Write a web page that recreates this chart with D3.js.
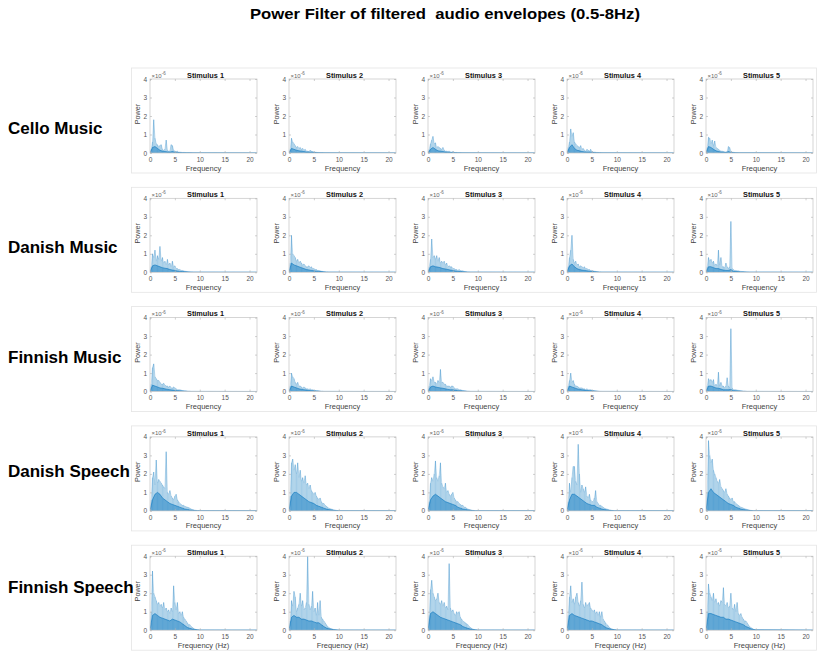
<!DOCTYPE html>
<html><head><meta charset="utf-8">
<script src="https://cdn.jsdelivr.net/npm/d3@7/dist/d3.min.js"></script>
<style>body{margin:0;background:#fff;}svg{display:block;font-family:"Liberation Sans",Arial,sans-serif;}</style>
</head><body>
<svg id="chart" width="817" height="653"></svg>
<script>
// ---------- DATA (power in units of 1e-6) ----------
const chartTitle = "Power Filter of filtered  audio envelopes (0.5-8Hz)";
const rowNames = ["Cello Music","Danish Music","Finnish Music","Danish Speech","Finnish Speech"];
const stimulusLabels = ["Stimulus 1","Stimulus 2","Stimulus 3","Stimulus 4","Stimulus 5"];
const xTicks = [0,5,10,15,20];
const yTicks = [0,1,2,3,4];
const peakStep = 0.25;   // Hz between peak samples (first at 0.25 Hz)
const coreStep = 0.5;    // Hz between core samples (first at 0.5 Hz)

// peak envelopes (light) — one array per stimulus
const celloPeaks = [
 [0.2,0.6,1.8,0.8,0.5,0.45,0.35,0.4,0.45,0.2,0.15,0.2,0.7,0.15,0.1,0.1,0.45,0.4,0.15,0.1,0.08,0.1,0.05,0.05,0.04,0.03,0.03,0.03,0.02,0.02,0.02,0.02,0.02,0.01],
 [0.2,0.8,0.6,0.5,0.4,0.3,0.35,0.25,0.3,0.2,0.25,0.15,0.2,0.1,0.1,0.08,0.15,0.1,0.08,0.06,0.05,0.04,0.03,0.03,0.02,0.02,0.02,0.01],
 [0.2,0.5,0.7,0.9,0.5,0.55,0.3,0.35,0.3,0.25,0.2,0.3,0.15,0.1,0.1,0.08,0.1,0.06,0.05,0.08,0.04,0.03,0.03,0.02,0.02,0.02,0.01],
 [0.3,0.6,1.3,0.9,1.1,0.6,0.5,0.4,0.35,0.3,0.4,0.2,0.25,0.15,0.1,0.2,0.15,0.1,0.2,0.08,0.05,0.05,0.04,0.03,0.03,0.02,0.02,0.01],
 [0.3,0.85,0.8,0.5,0.7,0.4,0.65,0.3,0.25,0.2,0.15,0.1,0.1,0.08,0.06,0.05,0.05,0.35,0.3,0.1,0.05,0.04,0.03,0.02,0.02,0.01]
];
const danishMusicPeaks = [
 [0.3,1.0,0.8,1.2,0.6,0.9,0.7,1.4,0.6,0.8,0.5,0.6,0.4,0.7,0.4,0.5,0.3,0.6,0.3,0.35,0.2,0.2,0.15,0.15,0.1,0.1,0.08,0.06,0.05,0.04,0.03,0.03,0.02,0.02,0.01],
 [0.5,2.0,1.0,0.9,0.8,0.6,0.7,0.5,0.6,0.5,0.4,0.45,0.35,0.3,0.3,0.35,0.25,0.3,0.2,0.2,0.15,0.15,0.1,0.1,0.08,0.06,0.05,0.04,0.03,0.02,0.02,0.01],
 [0.3,0.7,1.8,0.8,0.9,0.7,0.9,0.6,0.8,0.5,0.6,0.5,0.6,0.4,0.5,0.3,0.35,0.3,0.3,0.2,0.2,0.15,0.15,0.1,0.15,0.1,0.08,0.08,0.05,0.04,0.03,0.02,0.02,0.01],
 [0.3,0.8,1.2,2.0,0.7,0.5,0.6,0.4,0.45,0.3,0.35,0.3,0.25,0.3,0.2,0.2,0.15,0.15,0.1,0.1,0.08,0.06,0.05,0.04,0.03,0.02,0.02,0.01],
 [0.3,0.8,0.6,0.7,0.5,0.6,0.4,0.45,0.35,1.2,0.4,0.8,0.3,0.3,0.25,0.5,0.3,0.2,0.3,2.75,0.2,0.15,0.1,0.1,0.08,0.08,0.06,0.05,0.04,0.04,0.03,0.03,0.02,0.02,0.01]
];
const finnishMusicPeaks = [
 [0.4,1.3,1.5,0.8,0.7,0.6,0.6,0.5,0.4,0.4,0.45,0.35,0.3,0.3,0.25,0.3,0.2,0.2,0.25,0.2,0.15,0.1,0.1,0.1,0.08,0.06,0.05,0.04,0.04,0.03,0.02,0.02,0.01],
 [0.3,1.0,0.8,0.7,0.5,0.4,0.5,0.3,0.3,0.25,0.2,0.25,0.2,0.15,0.15,0.12,0.15,0.1,0.1,0.08,0.06,0.05,0.05,0.04,0.03,0.02,0.02,0.01],
 [0.3,0.7,0.6,0.8,0.5,0.5,0.4,0.6,0.5,1.2,0.5,0.5,0.4,0.4,0.3,0.3,0.3,0.25,0.3,0.3,0.2,0.15,0.15,0.15,0.1,0.1,0.08,0.06,0.05,0.04,0.03,0.02,0.02,0.01],
 [0.3,0.6,1.0,0.5,0.6,0.4,0.3,0.3,0.25,0.2,0.2,0.2,0.15,0.15,0.1,0.15,0.1,0.1,0.1,0.08,0.06,0.05,0.04,0.03,0.02,0.02,0.01],
 [0.3,0.7,0.6,0.65,0.5,0.65,0.3,0.4,0.3,1.05,0.3,0.5,0.3,0.3,0.2,0.3,0.75,0.3,0.2,3.4,0.2,0.1,0.1,0.1,0.08,0.07,0.06,0.05,0.04,0.03,0.03,0.02,0.01]
];
const danishSpeechPeaks = [
 [0.6,1.8,2.1,1.4,2.75,1.5,1.7,1.6,1.5,1.4,1.3,1.2,3.2,1.0,0.9,1.1,0.8,0.7,0.6,0.8,0.9,0.6,0.5,0.4,0.35,0.3,0.3,0.25,0.22,0.2,0.18,0.15,0.1,0.08,0.06,0.04,0.03,0.02,0.02,0.01],
 [0.8,2.6,2.8,2.2,2.5,2.0,2.6,1.8,2.2,1.6,1.8,1.5,1.9,1.4,1.5,1.2,1.4,1.1,1.0,0.9,1.0,0.8,0.7,0.6,0.7,0.5,0.4,0.4,0.3,0.25,0.2,0.15,0.12,0.1,0.08,0.05,0.04,0.03,0.02,0.01],
 [0.5,1.5,1.8,1.6,2.0,2.7,1.8,1.6,1.9,2.6,1.5,1.3,1.2,1.5,1.0,1.1,0.9,0.8,0.9,1.0,0.7,0.6,0.5,0.5,0.4,0.35,0.3,0.3,0.2,0.2,0.15,0.1,0.08,0.06,0.04,0.03,0.02,0.01],
 [0.5,1.5,1.0,1.8,2.4,2.4,1.6,1.4,3.6,2.0,1.0,1.4,1.2,1.0,1.3,0.8,0.7,0.9,0.6,0.5,0.5,0.7,1.1,0.5,0.4,0.3,0.3,0.25,0.2,0.15,0.12,0.1,0.08,0.05,0.04,0.03,0.02,0.01],
 [1.0,3.8,3.0,2.6,2.8,2.2,2.0,1.8,1.6,1.5,1.7,1.3,1.2,1.1,1.0,1.2,0.9,0.8,0.7,0.6,0.7,0.5,0.5,0.4,0.35,0.3,0.25,0.2,0.18,0.15,0.12,0.1,0.08,0.06,0.04,0.03,0.02,0.01]
];
const finnishSpeechPeaks = [
 [1.0,3.2,2.0,1.8,1.6,1.4,1.5,1.3,1.4,1.2,1.5,1.1,1.2,1.0,1.1,0.9,1.2,1.0,2.4,1.5,1.1,1.5,0.9,1.0,0.8,1.0,0.7,0.6,0.5,0.4,0.3,0.3,0.2,0.15,0.1,0.06,0.04,0.03,0.02,0.01],
 [0.5,1.6,1.3,2.1,1.8,1.0,1.2,1.4,2.0,1.3,1.6,1.1,1.2,1.5,4.0,1.4,1.1,1.3,2.1,1.0,1.2,0.8,1.5,0.8,1.6,0.7,0.6,0.5,0.4,0.3,0.2,0.15,0.1,0.08,0.06,0.04,0.03,0.02,0.01],
 [0.8,2.2,2.7,2.0,1.8,1.6,1.7,2.0,1.5,1.4,1.6,1.3,1.5,1.2,1.3,1.1,3.6,1.2,1.0,1.1,0.9,0.8,1.0,0.9,1.0,0.7,0.6,0.5,0.45,0.4,0.35,0.3,0.2,0.15,0.1,0.06,0.04,0.03,0.02,0.01],
 [0.8,1.8,2.4,1.5,1.7,1.4,1.8,2.0,1.5,1.3,1.6,2.6,1.4,1.2,1.5,1.3,1.4,1.5,1.2,1.1,1.0,1.1,0.9,1.0,0.8,1.0,0.7,1.0,0.6,0.5,0.4,0.3,0.25,0.15,0.1,0.06,0.04,0.03,0.02,0.01],
 [1.0,2.5,2.0,1.8,1.6,2.0,1.5,1.7,1.4,1.5,1.3,1.6,1.5,2.3,1.4,1.3,1.5,1.2,1.3,2.0,1.2,1.1,1.4,1.0,1.5,0.9,0.8,0.9,0.7,0.6,0.5,0.5,0.4,0.3,0.2,0.15,0.1,0.06,0.03,0.02]
];

// dense cores (dark) — one array per stimulus
const celloCore = [
 [0.3,0.35,0.25,0.15,0.1,0.08,0.06,0.05,0.08,0.04,0.03,0.02,0.01],
 [0.25,0.2,0.15,0.12,0.1,0.08,0.05,0.05,0.04,0.03,0.02,0.01],
 [0.2,0.3,0.2,0.12,0.1,0.08,0.05,0.04,0.03,0.02,0.02,0.01],
 [0.3,0.45,0.25,0.15,0.12,0.08,0.06,0.05,0.05,0.04,0.02,0.01],
 [0.35,0.3,0.2,0.12,0.08,0.05,0.04,0.03,0.08,0.03,0.02,0.01]
];
const danishMusicCore = [
 [0.35,0.4,0.35,0.3,0.25,0.22,0.2,0.15,0.12,0.1,0.07,0.05,0.04,0.03,0.02,0.01],
 [0.5,0.4,0.35,0.3,0.25,0.2,0.15,0.13,0.1,0.08,0.06,0.05,0.04,0.02,0.01],
 [0.3,0.35,0.3,0.28,0.25,0.2,0.18,0.15,0.12,0.1,0.07,0.05,0.04,0.03,0.02,0.01],
 [0.35,0.45,0.3,0.2,0.15,0.12,0.1,0.08,0.06,0.04,0.03,0.02,0.01],
 [0.3,0.3,0.25,0.2,0.2,0.15,0.12,0.1,0.1,0.15,0.05,0.04,0.03,0.02,0.02,0.01]
];
const finnishMusicCore = [
 [0.35,0.3,0.25,0.2,0.18,0.15,0.12,0.1,0.08,0.06,0.05,0.04,0.03,0.02,0.01],
 [0.3,0.25,0.2,0.15,0.12,0.1,0.08,0.06,0.05,0.04,0.03,0.02,0.01],
 [0.25,0.3,0.25,0.22,0.2,0.18,0.15,0.12,0.1,0.1,0.07,0.05,0.04,0.03,0.02,0.01],
 [0.3,0.25,0.2,0.15,0.12,0.1,0.08,0.06,0.05,0.04,0.03,0.02,0.01],
 [0.3,0.3,0.25,0.2,0.18,0.15,0.1,0.1,0.1,0.12,0.05,0.04,0.03,0.02,0.01]
];
const danishSpeechCore = [
 [0.6,0.9,1.0,0.9,0.7,0.6,0.5,0.4,0.35,0.3,0.25,0.2,0.15,0.1,0.08,0.05,0.03,0.02,0.01,0.01],
 [0.8,1.0,1.0,0.9,0.8,0.7,0.6,0.5,0.45,0.4,0.3,0.25,0.2,0.15,0.1,0.07,0.05,0.03,0.02,0.01],
 [0.6,0.8,0.9,0.8,0.7,0.6,0.5,0.45,0.4,0.35,0.3,0.2,0.15,0.1,0.08,0.05,0.03,0.02,0.01],
 [0.6,0.9,0.9,0.8,0.7,0.6,0.5,0.4,0.35,0.3,0.3,0.2,0.15,0.1,0.07,0.05,0.03,0.02,0.01],
 [1.0,1.2,1.0,0.9,0.8,0.7,0.6,0.5,0.4,0.35,0.3,0.2,0.15,0.1,0.07,0.05,0.03,0.02,0.01]
];
const finnishSpeechCore = [
 [0.8,0.9,0.8,0.7,0.65,0.6,0.55,0.5,0.6,0.55,0.5,0.45,0.35,0.25,0.15,0.1,0.06,0.04,0.02,0.01],
 [0.7,0.8,0.7,0.7,0.6,0.6,0.55,0.5,0.5,0.45,0.4,0.4,0.3,0.2,0.12,0.08,0.05,0.03,0.02,0.01],
 [0.9,1.0,0.9,0.8,0.7,0.65,0.6,0.55,0.5,0.45,0.4,0.35,0.3,0.2,0.15,0.1,0.06,0.04,0.02,0.01],
 [0.8,0.9,0.8,0.75,0.7,0.65,0.6,0.55,0.5,0.5,0.45,0.4,0.35,0.3,0.2,0.12,0.08,0.05,0.03,0.01],
 [0.9,0.9,0.85,0.8,0.75,0.7,0.7,0.6,0.6,0.55,0.5,0.45,0.4,0.35,0.3,0.2,0.15,0.08,0.04,0.02]
];

const allPeaks = [celloPeaks, danishMusicPeaks, finnishMusicPeaks, danishSpeechPeaks, finnishSpeechPeaks];
const allCores = [celloCore, danishMusicCore, finnishMusicCore, danishSpeechCore, finnishSpeechCore];

// ---------- LAYOUT ----------
const svg = d3.select("#chart");
const colX0 = 150, colStep = 139, axW = 107;
const rowTop0 = 79, rowStep = 119.3, axH = 74;
const rowLabelY = [134, 253, 363, 477, 593];
const xMax = 21.5;
const blue = "#0072BD";

svg.append("text").attr("x", 445).attr("y", 19).attr("text-anchor","middle")
  .attr("font-size", 15.5).attr("font-weight","bold").attr("fill","#000")
  .attr("textLength", 390).attr("lengthAdjust","spacingAndGlyphs")
  .style("white-space","pre").text(chartTitle);

const x = d3.scaleLinear().domain([0, xMax]).range([0, axW]);
const y = d3.scaleLinear().domain([0, 4]).range([axH, 0]);

const area = d3.area().x(d => x(d[0])).y0(y(0)).y1(d => y(d[1]));
const line = d3.line().x(d => x(d[0])).y(d => y(d[1]));

const defs = svg.append("defs");
defs.append("clipPath").attr("id","axclip").append("rect")
  .attr("x",0).attr("y",0).attr("width",axW).attr("height",axH);

rowNames.forEach((rn, r) => {
  const top = rowTop0 + r * rowStep;
  svg.append("rect").attr("x", 131.5).attr("y", top - 11).attr("width", 685).attr("height", 105)
    .attr("fill","none").attr("stroke","#e4e4e4").attr("stroke-width",0.8);
  svg.append("text").attr("x", 8).attr("y", rowLabelY[r]).attr("font-size",17)
    .attr("font-weight","bold").attr("fill","#000").text(rn);

  stimulusLabels.forEach((sl, c) => {
    const left = colX0 + c * colStep;
    const g = svg.append("g").attr("transform", `translate(${left},${top})`);
    const pk = allPeaks[r][c].map((v,i) => [peakStep*(i+1), v]);
    const peaks = [[0,0]].concat(pk, [[xMax, 0.01]]);
    const core = [[0,0]].concat(allCores[r][c].map((v,i) => [coreStep*(i+1), v]), [[xMax, 0.005]]);

    const pg = g.append("g").attr("clip-path","url(#axclip)");
    pg.append("path").datum(peaks).attr("d", area)
      .attr("fill", blue).attr("fill-opacity", 0.13);
    pg.selectAll("line.spk").data(pk).join("line").attr("class","spk")
      .attr("x1", d => x(d[0])).attr("x2", d => x(d[0]))
      .attr("y1", y(0)).attr("y2", d => y(d[1]))
      .attr("stroke", blue).attr("stroke-opacity", 0.4).attr("stroke-width", 0.7);
    pg.append("path").datum(peaks).attr("d", line)
      .attr("fill","none").attr("stroke", blue).attr("stroke-opacity",0.45).attr("stroke-width",0.5);
    pg.append("path").datum(core).attr("d", area)
      .attr("fill", blue).attr("fill-opacity", 0.45);
    pg.append("path").datum(core).attr("d", line)
      .attr("fill","none").attr("stroke", blue).attr("stroke-opacity",0.8).attr("stroke-width",0.7);

    g.append("rect").attr("x",0).attr("y",0).attr("width",axW).attr("height",axH)
      .attr("fill","none").attr("stroke","#c4c4c4").attr("stroke-width",0.7);

    const xa = g.append("g").attr("transform",`translate(0,${axH})`)
      .call(d3.axisBottom(x).tickValues(xTicks).tickFormat(d3.format("d")).tickSizeInner(-2).tickSizeOuter(0).tickPadding(4));
    const xt = g.append("g").call(d3.axisTop(x).tickValues(xTicks).tickFormat("").tickSizeInner(-2).tickSizeOuter(0));
    const ya = g.append("g")
      .call(d3.axisLeft(y).tickValues(yTicks).tickFormat(d3.format("d")).tickSizeInner(-2).tickSizeOuter(0).tickPadding(3));
    const yr = g.append("g").attr("transform",`translate(${axW},0)`)
      .call(d3.axisRight(y).tickValues(yTicks).tickFormat("").tickSizeInner(-2).tickSizeOuter(0));
    [xa, xt, ya, yr].forEach(a => {
      a.select(".domain").remove();
      a.selectAll("line").attr("stroke","#b0b0b0").attr("stroke-width",0.6);
      a.selectAll("text").attr("font-size",6.5).attr("fill","#555")
        .attr("font-family",'"Liberation Sans",Arial,sans-serif');
    });

    const ex = g.append("text").attr("x", 1.5).attr("y", -1.5).attr("font-size",6).attr("fill","#666");
    ex.append("tspan").text("×10");
    ex.append("tspan").attr("dy",-2.5).attr("font-size",4.5).text("-6");

    g.append("text").attr("x", axW/2 + 2).attr("y", -1.2).attr("text-anchor","middle")
      .attr("font-size",7.3).attr("font-weight","bold").attr("fill","#111").text(sl);
    g.append("text").attr("transform",`translate(-10,${axH/2 - 2}) rotate(-90)`).attr("text-anchor","middle")
      .attr("font-size",7.2).attr("fill","#444").text("Power");
    g.append("text").attr("x", axW/2).attr("y", axH + 17.5).attr("text-anchor","middle")
      .attr("font-size",7.5).attr("fill","#444").text(r === rowNames.length - 1 ? "Frequency (Hz)" : "Frequency");
  });
});
</script>
</body></html>
